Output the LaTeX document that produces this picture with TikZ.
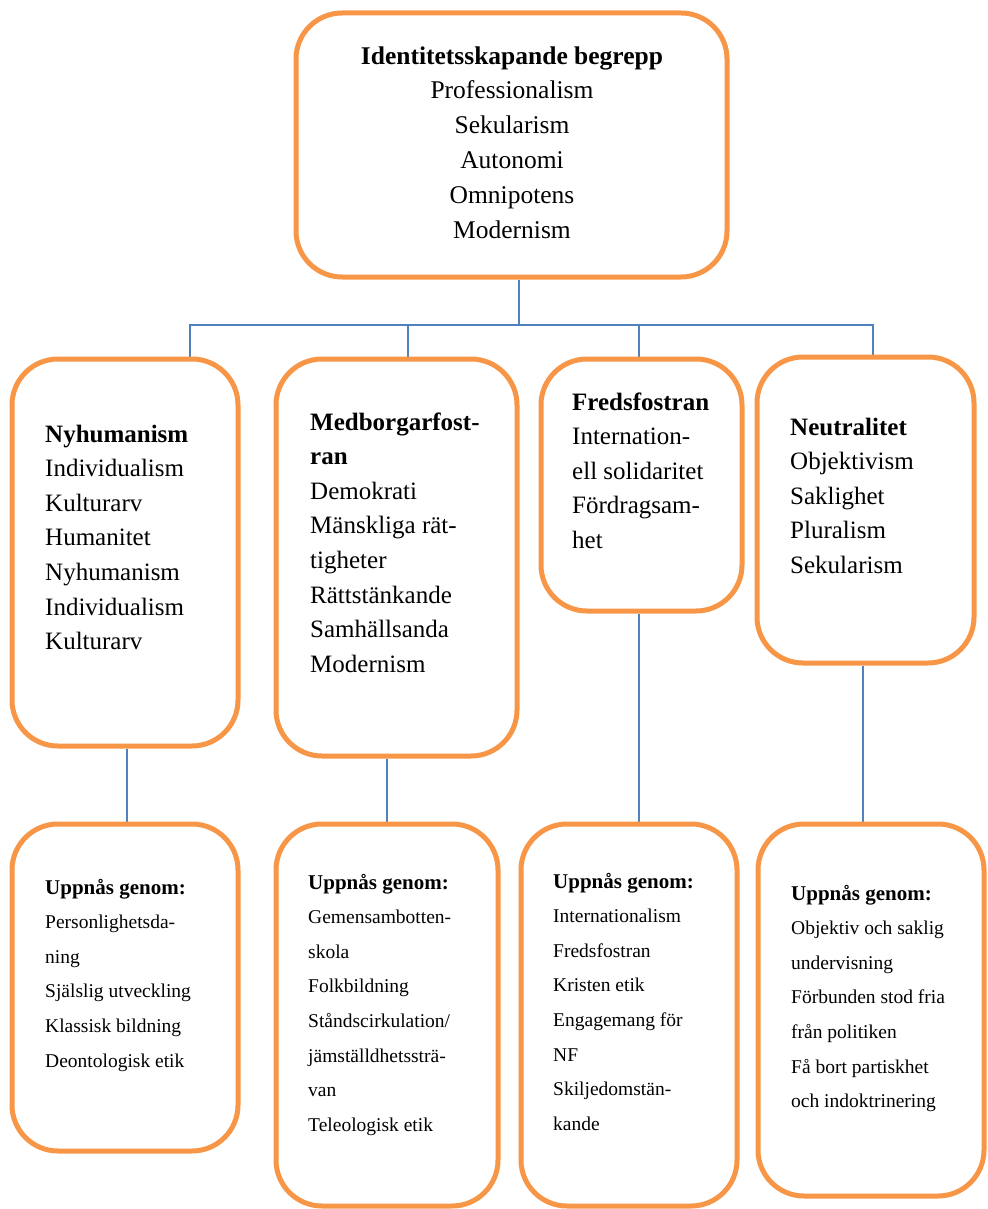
\documentclass[tikz,border=0pt]{standalone}
\usepackage{fontspec}
\setmainfont{Liberation Serif}
\usetikzlibrary{backgrounds}
\definecolor{org}{HTML}{F79646}
\definecolor{blu}{HTML}{4F81BD}
\tikzset{
  box/.style={draw=org, line width=5pt, rounded corners=46pt, fill=white, inner sep=0pt},
  conn/.style={draw=blu, line width=2.5pt},
  toptxt/.style={anchor=base, align=center, inner sep=0pt, font=\fontsize{25.5}{34.8}\selectfont},
  midtxt/.style={anchor=base west, align=left, inner sep=0pt, font=\fontsize{25}{34.6}\selectfont},
  lowtxt/.style={anchor=base west, align=left, inner sep=0pt, font=\fontsize{19.5}{34.6}\selectfont},
}
\newcommand{\hdr}[1]{{\fontsize{21}{34.6}\selectfont\bfseries #1}}
\begin{document}
\begin{tikzpicture}[x=1pt, y=-1pt]
\useasboundingbox (0,0) rectangle (987,1209);
% boxes
\node[box, minimum width=431pt, minimum height=264pt] (top) at (511.5,145) {};
\node[box, minimum width=226pt, minimum height=387pt] (m1) at (125,552.5) {};
\node[box, minimum width=241pt, minimum height=397pt] (m2) at (396.5,557.5) {};
\node[box, minimum width=201pt, minimum height=252pt] (m3) at (641.5,485) {};
\node[box, minimum width=217pt, minimum height=306pt] (m4) at (865.5,510) {};
\node[box, minimum width=226pt, minimum height=327pt] (b1) at (125,987.5) {};
\node[box, minimum width=222pt, minimum height=382pt] (b2) at (387,1015) {};
\node[box, minimum width=216pt, minimum height=382pt] (b3) at (629,1015) {};
\node[box, minimum width=226pt, minimum height=372pt] (b4) at (871,1010) {};
% connectors
\coordinate (hub) at (519,325);
\begin{scope}[on background layer]
\draw[conn] (top.south -| hub) -- (hub);
\draw[conn] ([xshift=65pt]m1.north) |- (hub) -| ([xshift=7.5pt]m4.north);
\draw[conn] ([xshift=11.5pt]m2.north) -- ([xshift=11.5pt]m2.north |- hub);
\draw[conn] ([xshift=-2.5pt]m3.north) -- ([xshift=-2.5pt]m3.north |- hub);
\draw[conn] ([xshift=2pt]m1.south) -- ([xshift=2pt]m1.south |- b1.north);
\draw[conn] (b2.north |- m2.south) -- (b2.north);
\draw[conn] ([xshift=-2.5pt]m3.south) -- ([xshift=-2.5pt]m3.south |- b3.north);
\draw[conn] ([xshift=-2.5pt]m4.south) -- ([xshift=-2.5pt]m4.south |- b4.north);
\end{scope}
% texts (anchored at the baseline of the last line)
\node[toptxt] (ttop) at (512,238) {\textbf{Identitetsskapande begrepp}\\Professionalism\\Sekularism\\Autonomi\\Omnipotens\\Modernism};
\node[midtxt] (tm1) at (45,649.6) {\textbf{Nyhumanism}\\Individualism\\Kulturarv\\Humanitet\\Nyhumanism\\Individualism\\Kulturarv};
\node[midtxt] (tm2) at (310,672.2) {\textbf{Medborgarfost-}\\\textbf{ran}\\Demokrati\\Mänskliga rät-\\tigheter\\Rättstänkande\\Samhällsanda\\Modernism};
\node[midtxt] (tm3) at (572,548.4) {\textbf{Fredsfostran}\\Internation-\\ell solidaritet\\Fördragsam-\\het};
\node[midtxt] (tm4) at (790,573.4) {\textbf{Neutralitet}\\Objektivism\\Saklighet\\Pluralism\\Sekularism};
\node[lowtxt] (tb1) at (45,1067) {\hdr{Uppnås genom:}\\Personlighetsda-\\ning\\Själslig utveckling\\Klassisk bildning\\Deontologisk etik};
\node[lowtxt] (tb2) at (308,1131.2) {\hdr{Uppnås genom:}\\Gemensambotten-\\skola\\Folkbildning\\Ståndscirkulation/\\jämställdhetssträ-\\van\\Teleologisk etik};
\node[lowtxt] (tb3) at (553,1130.2) {\hdr{Uppnås genom:}\\Internationalism\\Fredsfostran\\Kristen etik\\Engagemang för\\NF\\Skiljedomstän-\\kande};
\node[lowtxt] (tb4) at (791,1107.6) {\hdr{Uppnås genom:}\\Objektiv och saklig\\undervisning\\Förbunden stod fria\\från politiken\\Få bort partiskhet\\och indoktrinering};
\end{tikzpicture}
\end{document}
